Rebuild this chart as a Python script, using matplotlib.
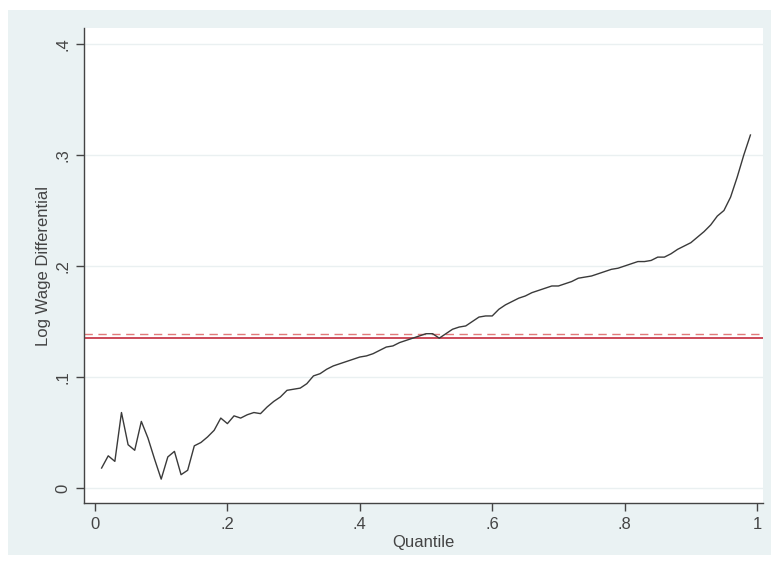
import matplotlib
matplotlib.use("Agg")
import matplotlib.pyplot as plt
from matplotlib.patches import Rectangle

plt.rcParams['font.family'] = ['Liberation Sans', 'DejaVu Sans']

# Quantile grid and estimated log wage differential at each quantile
quantiles = [round(0.01 * i, 2) for i in range(1, 100)]
log_wage_diff = [
    0.018, 0.029, 0.024, 0.068, 0.039, 0.034, 0.060, 0.045, 0.026, 0.008,
    0.028, 0.033, 0.012, 0.016, 0.038, 0.041, 0.046, 0.052, 0.063, 0.058,
    0.065, 0.063, 0.066, 0.068, 0.067, 0.073, 0.078, 0.082, 0.088, 0.089,
    0.090, 0.094, 0.101, 0.103, 0.107, 0.110, 0.112, 0.114, 0.116, 0.118,
    0.119, 0.121, 0.124, 0.127, 0.128, 0.131, 0.133, 0.135, 0.137, 0.139,
    0.139, 0.135, 0.139, 0.143, 0.145, 0.146, 0.150, 0.154, 0.155, 0.155,
    0.161, 0.165, 0.168, 0.171, 0.173, 0.176, 0.178, 0.180, 0.182, 0.182,
    0.184, 0.186, 0.189, 0.190, 0.191, 0.193, 0.195, 0.197, 0.198, 0.200,
    0.202, 0.204, 0.204, 0.205, 0.208, 0.208, 0.211, 0.215, 0.218, 0.221,
    0.226, 0.231, 0.237, 0.245, 0.250, 0.262, 0.280, 0.300, 0.318,
]

# Reference levels (mean differentials)
ref_solid = 0.135
ref_dashed = 0.139

x_ticks = [0, 0.2, 0.4, 0.6, 0.8, 1.0]
x_ticklabels = ["0", ".2", ".4", ".6", ".8", "1"]
y_ticks = [0, 0.1, 0.2, 0.3, 0.4]
y_ticklabels = ["0", ".1", ".2", ".3", ".4"]

W, H = 771, 569
fig = plt.figure(figsize=(W / 100, H / 100), dpi=100, facecolor="white")

# Graph region background
fig.patches.append(Rectangle((8 / W, (H - 555) / H), (W - 8) / W, (555 - 10) / H,
                             transform=fig.transFigure, facecolor="#eaf2f3",
                             edgecolor="none", zorder=-10))

ax = fig.add_axes([84 / W, (H - 503) / H, (763 - 84) / W, (503 - 28) / H])
ax.set_zorder(5)
ax.set_facecolor("white")

ax.set_xlim(-0.0166, 1.009)
ax.set_ylim(-0.0135, 0.4144)

for yt in y_ticks:
    ax.axhline(yt, color="#eaf0f1", lw=1.0, zorder=1)

ax.axhline(ref_solid, color="#c83c4c", lw=1.3, zorder=2)
ax.axhline(ref_dashed, color="#e07a7a", lw=1.0, ls=(0, (6, 4)), zorder=2)

ax.plot(quantiles, log_wage_diff, color="#3a3a3a", lw=1.0, zorder=3)

for side in ("top", "right"):
    ax.spines[side].set_visible(False)
for side in ("left", "bottom"):
    ax.spines[side].set_color("#444444")
    ax.spines[side].set_linewidth(1.0)

ax.set_xticks(x_ticks)
ax.set_xticklabels(x_ticklabels)
ax.set_yticks(y_ticks)
ax.set_yticklabels(y_ticklabels, rotation=90, va="center")
ax.tick_params(axis="both", direction="out", length=6, width=1.0,
               color="#444444", labelcolor="#444444", labelsize=12, pad=4)

ax.set_xlabel("Quantile", fontsize=12, color="#444444", labelpad=2)
ax.set_ylabel("Log Wage Differential", fontsize=12, color="#444444", labelpad=3)

fig.savefig("out.png", dpi=100, facecolor=fig.get_facecolor())
